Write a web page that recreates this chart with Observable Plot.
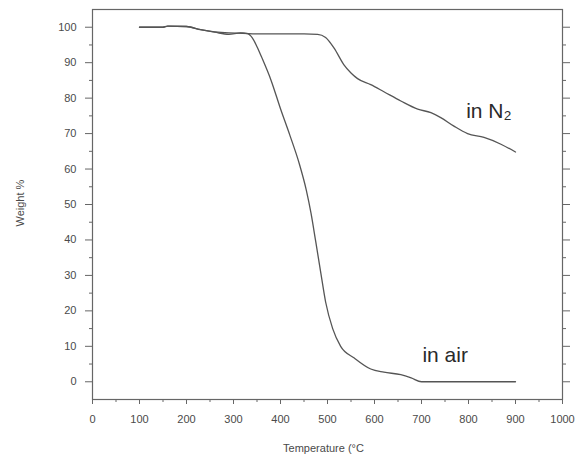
<!DOCTYPE html>
<html>
<head>
<meta charset="utf-8">
<script src="https://cdn.jsdelivr.net/npm/d3@7"></script>
<script src="https://cdn.jsdelivr.net/npm/@observablehq/plot@0.6"></script>
<style>
  html, body { margin: 0; padding: 0; background: #fff; }
</style>
</head>
<body>
<div id="chart"></div>
<script>
// Temperature (°C) and weight (%)
const airT = [100,150,160,200,230,260,290,315,330,340,350,360,380,400,420,440,455,465,475,486,496,511,528,557,592,620,656,678,700,900];
const airW = [100,100,100.3,100.2,99.3,98.6,98,98.4,98.2,97,94.5,91.5,85,77,69.5,61.5,54,47.5,39.5,30.5,22.5,15,10,6.7,3.6,2.7,2,1.1,0,0];

const n2T = [100,150,160,200,230,260,290,320,350,400,450,479,496,514,535,550,564,592,620,656,692,720,741,769,798,833,869,900];
const n2W = [100,100,100.3,100.2,99.3,98.7,98.4,98.3,98.1,98.1,98.1,98,97.1,94.1,89.4,87.1,85.5,83.8,81.8,79.2,76.9,75.9,74.5,72.1,70,68.9,67,64.8];

const xTicks = [0,100,200,300,400,500,600,700,800,900,1000];
const xMinor = [50,150,250,350,450,550,650,750,850,950];
const yTicks = [0,10,20,30,40,50,60,70,80,90,100];
const yMinor = [5,15,25,35,45,55,65,75,85,95];

const labelText = ["in N₂", "in air"];
const labelT = [795, 702];
const labelW = [76.2, 7.4];

const air = airT.map((t, i) => ({T: t, W: airW[i]}));
const n2 = n2T.map((t, i) => ({T: t, W: n2W[i]}));
const labels = labelText.map((s, i) => ({s, T: labelT[i], W: labelW[i]}));

const axisColor = "#666";
const fmt = d3.format("d");
const chart = Plot.plot({
  width: 577,
  height: 461,
  marginLeft: 92,
  marginRight: 15,
  marginTop: 9,
  marginBottom: 62,
  style: {fontFamily: "'Liberation Sans', Arial, sans-serif", fontSize: "11px", color: "#4a4a4a", background: "#fff"},
  x: {domain: [0, 1000]},
  y: {domain: [-5, 105]},
  marks: [
    Plot.frame({stroke: axisColor, strokeWidth: 1.2}),
    Plot.axisX({ticks: xTicks, tickSize: 5, tickPadding: 11, tickFormat: fmt, label: null, stroke: axisColor}),
    Plot.axisX({ticks: xMinor, tickSize: 3, tickFormat: () => "", label: null, stroke: axisColor}),
    Plot.axisY({ticks: yTicks, tickSize: 7, tickPadding: 9, tickFormat: fmt, label: null, stroke: axisColor}),
    Plot.axisY({ticks: yMinor, tickSize: 3, tickFormat: () => "", label: null, stroke: axisColor}),
    Plot.axisY({anchor: "right", ticks: yTicks, tickSize: 7, tickFormat: () => "", label: null, stroke: axisColor}),
    Plot.axisY({anchor: "right", ticks: yMinor, tickSize: 3, tickFormat: () => "", label: null, stroke: axisColor}),
    Plot.line(n2, {x: "T", y: "W", stroke: "#555", strokeWidth: 1.3, curve: "monotone-x"}),
    Plot.line(air, {x: "T", y: "W", stroke: "#555", strokeWidth: 1.3, curve: "monotone-x"}),
    Plot.text(labels, {x: "T", y: "W", text: "s", textAnchor: "start", fontSize: 21, fill: "#2a2a2a"}),
    Plot.text(["Weight %"], {frameAnchor: "left", text: d => d, rotate: -90, dx: -72, dy: 22, fontSize: 11, fill: "#4a4a4a"}),
    Plot.text(["Temperature (°C"], {frameAnchor: "bottom", text: d => d, dx: -4, dy: 52, fontSize: 11, fill: "#4a4a4a"})
  ]
});
document.getElementById("chart").appendChild(chart);
</script>
</body>
</html>
